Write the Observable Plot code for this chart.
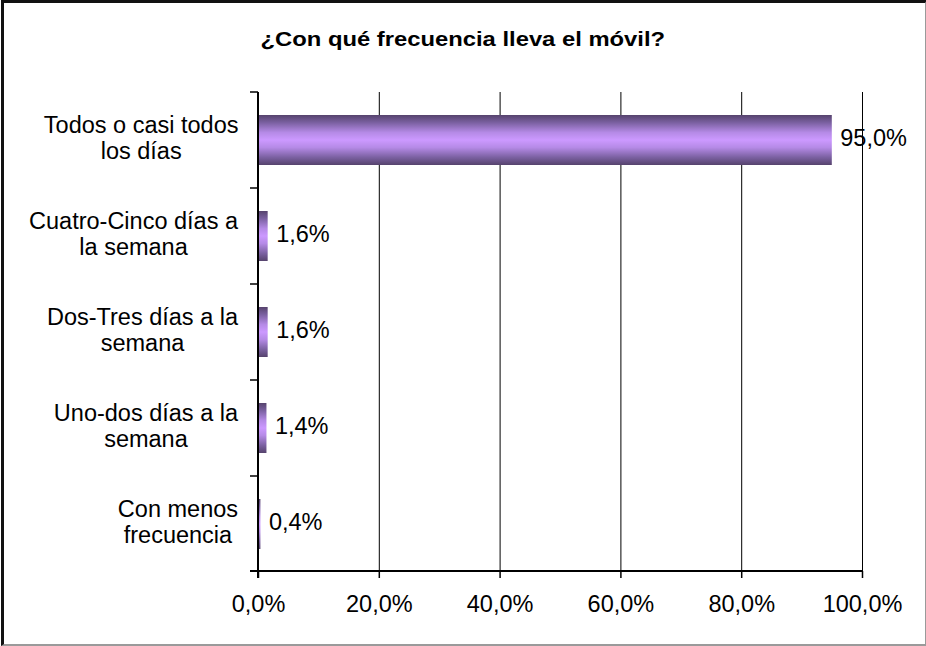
<!DOCTYPE html>
<html>
<head>
<meta charset="utf-8">
<script src="https://cdn.jsdelivr.net/npm/d3@7"></script>
<script src="https://cdn.jsdelivr.net/npm/@observablehq/plot@0.6"></script>
<style>
  body { margin: 0; background: #fff; }
  #wrap { position: relative; width: 926px; height: 646px; overflow: hidden; font-family: "Liberation Sans", Arial, sans-serif; }
  #frame { position: absolute; left: 1px; top: 0px; width: 921px; height: 641px; border-left: 3px solid #111; border-top: 3px solid #111; border-right: 2px solid #9a9a9a; border-bottom: 2px solid #9a9a9a; pointer-events: none; }
  #title { position: absolute; left: 0; top: 28px; width: 926px; text-align: center; }
  #title span { display: inline-block; font-weight: bold; font-size: 19.5px; transform: scaleX(1.22); color: #000; }
  #chart { position: absolute; left: 0; top: 0; }
</style>
</head>
<body>
<div id="wrap">
  <div id="chart"></div>
  <div id="title"><span>¿Con qué frecuencia lleva el móvil?</span></div>
  <div id="frame"></div>
</div>
<script>
const categories = [
  "Todos o casi todos\nlos días",
  "Cuatro-Cinco días a\nla semana",
  "Dos-Tres días a la\nsemana",
  "Uno-dos días a la\nsemana",
  "Con menos\nfrecuencia"
];
const values = [95.0, 1.6, 1.6, 1.4, 0.4];
const xTicks = [0, 20, 40, 60, 80, 100];

const data = categories.map((c, i) => ({cat: c, value: values[i]}));
const fmt = v => v.toFixed(1).replace(".", ",") + "%";

function axisDecor(index, scales, vals, dims) {
  const {width, height, marginLeft, marginRight, marginTop, marginBottom} = dims;
  const g = d3.create("svg:g").attr("stroke", "#000").attr("fill", "none");
  const yb = height - marginBottom;
  const y = scales.y;
  const step = y.step(), bw = y.bandwidth();
  g.append("line").attr("x1", marginLeft).attr("x2", marginLeft)
    .attr("y1", marginTop).attr("y2", yb + 7).attr("stroke-width", 2);
  g.append("line").attr("x1", marginLeft - 8).attr("x2", width - marginRight)
    .attr("y1", yb).attr("y2", yb).attr("stroke-width", 2);
  const bounds = categories.map(c => y(c) + bw / 2 - step / 2);
  bounds.forEach(b => {
    g.append("line").attr("x1", marginLeft - 8).attr("x2", marginLeft)
      .attr("y1", b).attr("y2", b).attr("stroke-width", 1.5);
  });
  return g.node();
}

const plot = Plot.plot({
  width: 926,
  height: 646,
  marginLeft: 258,
  marginRight: 64,
  marginTop: 92,
  marginBottom: 75,
  style: {fontFamily: '"Liberation Sans", Arial, sans-serif', fontSize: "23.5px", color: "#000", background: "transparent"},
  x: {domain: [0, 100], label: null},
  y: {domain: categories, paddingInner: 0.48, paddingOuter: 0.22, axis: null},
  marks: [
    Plot.gridX(xTicks.slice(1), {stroke: "#000", strokeOpacity: 1, strokeWidth: 1}),
    Plot.barX(data, {x: "value", y: "cat", fill: "url(#barGrad)"}),
    Plot.text(data, {x: "value", y: "cat", text: d => fmt(d.value), textAnchor: "start", dx: 8, dy: -2, fontSize: 23.5, fill: "#000"}),
    Plot.text(data, {y: "cat", text: "cat", frameAnchor: "left", dx: -20, dy: -3, textAnchor: "end", lineHeight: 1.1, fontSize: 23.5, fill: "#000", className: "catlab"}),
    Plot.axisX(xTicks, {tickSize: 7, tickPadding: 17, tickFormat: fmt, fontSize: 23.5, stroke: "#000", strokeWidth: 1.5, fill: "#000", label: null}),
    axisDecor
  ]
});

document.getElementById("chart").appendChild(plot);

const defs = d3.select(plot).insert("defs", ":first-child");
const grad = defs.append("linearGradient").attr("id", "barGrad")
  .attr("x1", 0).attr("y1", 0).attr("x2", 0).attr("y2", 1);
[[0, "#56436d"], [0.15, "#7a60a0"], [0.35, "#b58ae6"], [0.5, "#cc99ff"], [0.65, "#b58ae6"], [0.85, "#7a60a0"], [1, "#56436d"]]
  .forEach(([o, c]) => grad.append("stop").attr("offset", o).attr("stop-color", c));

d3.select(plot).selectAll(".catlab text").each(function() {
  const w = this.getBBox().width;
  this.setAttribute("text-anchor", "middle");
  const t = this.getAttribute("transform") || "";
  this.setAttribute("transform", t + ` translate(${-w / 2},0)`);
});
</script>
</body>
</html>
